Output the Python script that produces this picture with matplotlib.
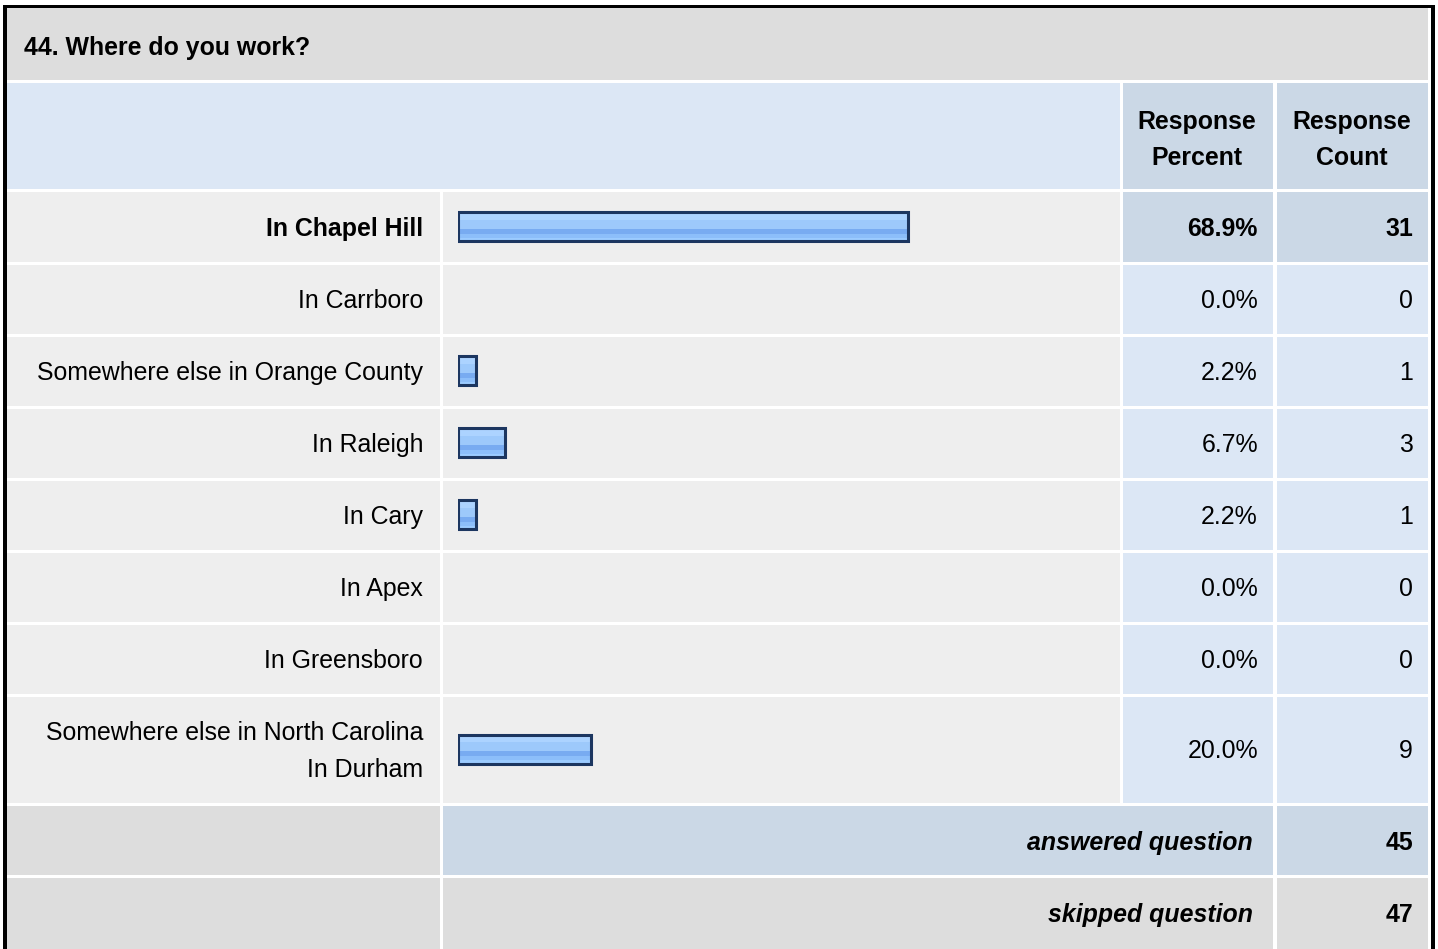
import numpy as np
import matplotlib
matplotlib.use('Agg')
import matplotlib.pyplot as plt
from matplotlib.patches import Rectangle
from matplotlib.colors import to_rgb

# survey results
question = "44. Where do you work?"
answers = ["In Chapel Hill", "In Carrboro", "Somewhere else in Orange County",
           "In Raleigh", "In Cary", "In Apex", "In Greensboro",
           "Somewhere else in North Carolina\nIn Durham"]
percents = [68.9, 0.0, 2.2, 6.7, 2.2, 0.0, 0.0, 20.0]
counts = [31, 0, 1, 3, 1, 0, 0, 9]
answered = 45
skipped = 47

plt.rcParams['font.family'] = ['Liberation Sans', 'DejaVu Sans']
FS = 17.9

W, H = 1438, 949
fig = plt.figure(figsize=(W / 100, H / 100), dpi=100)
ax = fig.add_axes([0, 0, 1, 1])
ax.set_xlim(0, W)
ax.set_ylim(H, 0)
ax.axis('off')

GREY = '#dddddd'
ROW = '#eeeeee'
BLUE = '#dce7f5'
BLUE2 = '#cbd8e6'


def cell(x0, x1, y0, y1, color):
    ax.add_patch(Rectangle((x0, y0), x1 - x0, y1 - y0, facecolor=color, edgecolor='none'))


# column edges
c_lab = (7, 440)
c_bar = (443, 1120)
c_pct = (1123, 1273)
c_cnt = (1277, 1428)

# title row + header row
cell(7, 1428, 8, 80, GREY)
ax.text(24, 48, question, fontsize=FS, fontweight='bold', va='center', ha='left')
cell(7, 1120, 83, 189, BLUE)
cell(*c_pct, 83, 189, BLUE2)
cell(*c_cnt, 83, 189, BLUE2)
ax.text(1197, 140, "Response\nPercent", fontsize=FS, fontweight='bold', ha='center', va='center',
        linespacing=1.65)
ax.text(1352, 140, "Response\nCount", fontsize=FS, fontweight='bold', ha='center', va='center',
        linespacing=1.65)

# answer rows
tops = [192, 265, 337, 409, 481, 553, 625, 697]
bots = [262, 334, 406, 478, 550, 622, 694, 803]
top_i = int(np.argmax(percents))
centers = []
for i, (a, p, c) in enumerate(zip(answers, percents, counts)):
    y0, y1 = tops[i], bots[i]
    yc = (y0 + y1) / 2
    centers.append(yc)
    hi = i == top_i
    cell(*c_lab, y0, y1, ROW)
    cell(*c_bar, y0, y1, ROW)
    cell(*c_pct, y0, y1, BLUE2 if hi else BLUE)
    cell(*c_cnt, y0, y1, BLUE2 if hi else BLUE)
    fw = 'bold' if hi else 'normal'
    ax.text(423, yc + 1.5, a, fontsize=FS, fontweight=fw, ha='right', va='center',
            linespacing=1.65)
    ax.text(1258, yc + 1.5, "%.1f%%" % p, fontsize=FS, fontweight=fw, ha='right', va='center')
    ax.text(1413, yc + 1.5, str(c), fontsize=FS, fontweight=fw, ha='right', va='center')

# totals
cell(*c_lab, 806, 875, GREY)
cell(443, 1273, 806, 875, BLUE2)
cell(*c_cnt, 806, 875, BLUE2)
cell(*c_lab, 878, 949, GREY)
cell(443, 1273, 878, 949, GREY)
cell(*c_cnt, 878, 949, GREY)
ax.text(1253, 843, "answered question", fontsize=FS, fontweight='bold', style='italic',
        ha='right', va='center')
ax.text(1413, 843, str(answered), fontsize=FS, fontweight='bold', ha='right', va='center')
ax.text(1253, 915, "skipped question", fontsize=FS, fontweight='bold', style='italic',
        ha='right', va='center')
ax.text(1413, 915, str(skipped), fontsize=FS, fontweight='bold', ha='right', va='center')

# outer frame
ax.add_patch(Rectangle((2.5, 5), 4, H, facecolor='black', edgecolor='none'))
ax.add_patch(Rectangle((2.5, 4.5), 1432, 3, facecolor='black', edgecolor='none'))
ax.add_patch(Rectangle((1431, 5), 3.5, H, facecolor='black', edgecolor='none'))

# bars: 6.47 px per percent, each bar starts a little left of zero
lead = 0.62
px_per = 6.47
bx = fig.add_axes([458 / W, 0, (100 + lead) * px_per / W, 1])
bx.axis('off')
bx.patch.set_alpha(0)

band = ['#c9e2ff'] * 2 + ['#acd3ff'] * 5 + ['#9dc9fb'] * 8 + ['#78abf1'] * 5 + \
       ['#8cbefa'] * 3 + ['#9bcbff'] * 3
grad = np.array([[to_rgb(c)] for c in band])
bh = 29
for p, yc in zip(percents, centers):
    if p <= 0:
        continue
    r = bx.barh(yc - 1, p + lead, left=-lead, height=bh, color='none',
                edgecolor='#1c3660', linewidth=2.2)[0]
    im = bx.imshow(grad, extent=[-lead, p, yc - 1 + bh / 2, yc - 1 - bh / 2], aspect='auto',
                   interpolation='nearest', zorder=1)
    im.set_clip_path(r)
    r.set_zorder(2)
bx.set_xlim(-lead, 100)
bx.set_ylim(H, 0)

fig.savefig('out.png', dpi=100, facecolor='white')
